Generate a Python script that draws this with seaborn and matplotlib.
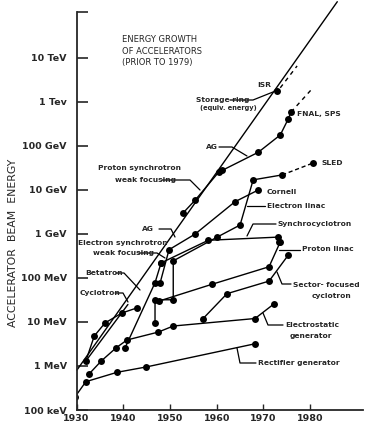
import numpy as np
import pandas as pd
import seaborn as sns
import matplotlib.pyplot as plt
from matplotlib.lines import Line2D

# -------------------------------
# Data (year, beam energy in MeV)
# -------------------------------
rect_year = [1929.7, 1932.0, 1938.7, 1944.9, 1968.2]
rect_mev = [0.20, 0.44, 0.72, 0.95, 3.2]

estat_year = [1932.7, 1935.3, 1938.5, 1940.8, 1947.5, 1950.7, 1968.2, 1972.3]
estat_mev = [0.66, 1.3, 2.6, 3.9, 5.9, 8.1, 12, 26]

cyc_year = [1932.0, 1933.8, 1936.1, 1939.7, 1943.0]
cyc_mev = [1.3, 4.8, 9.5, 16, 21]
cyc_env_year = [1932.0, 1941.0]
cyc_env_mev = [1.3, 25]

beta_year = [1940.4, 1946.8, 1948.1]
beta_mev = [2.6, 78, 220]

esync_year = [1947.9, 1949.8, 1955.4, 1963.9, 1968.9]
esync_mev = [78, 440, 1000, 5400, 10000]

sync_year = [1948.1, 1958.2, 1973.2]
sync_mev = [220, 720, 850]
sync_extra_year = [1973.4]
sync_extra_mev = [660]

elin_year = [1946.8, 1946.8, 1950.7, 1950.7, 1960.1, 1965.0, 1967.8, 1974.0]
elin_mev = [9.5, 32, 32, 245, 850, 1600, 17000, 22000]
sled_year = [1974.0, 1980.6]
sled_mev = [22000, 41000]

plin_year = [1947.7, 1959.0, 1971.2, 1973.6]
plin_mev = [30, 72, 180, 660]

sector_year = [1957.1, 1962.2, 1971.2, 1975.3]
sector_mev = [12, 44, 85, 330]

psync_year = [1952.8, 1955.4, 1960.5, 1961.2, 1968.9, 1973.6, 1975.3, 1975.9]
psync_mev = [3000, 5900, 26000, 28000, 72000, 178000, 410000, 590000]
fnal_year = [1975.9, 1980.6]
fnal_mev = [590000, 2.1e6]

env_year = [1930.1, 1985.8]
env_mev = [0.81, 1.9e8]

isr_year = [1972.9]
isr_mev = [1.8e6]
isr_ext_year = [1973.6, 1977.2]
isr_ext_mev = [2.1e6, 6.6e6]

tick_mev = [0.1, 1, 10, 100, 1e3, 1e4, 1e5, 1e6, 1e7]
tick_text = ["100 keV", "1 MeV", "10 MeV", "100 MeV", "1 GeV",
             "10 GeV", "100 GeV", "1 Tev", "10 TeV"]
year_ticks = [1930, 1940, 1950, 1960, 1970, 1980]

# -------------------------------
# Figure
# -------------------------------
sns.set_style("ticks")
plt.rcParams["font.family"] = ["DejaVu Sans"]

W, H = 365, 428
fig = plt.figure(figsize=(W / 100, H / 100), dpi=100)
ax = fig.add_axes([76.5 / W, 18 / H, 286.5 / W, 398 / H])
ax.set_yscale("log")

def draw(xs, ys, dots=True, ls="-", clip=True):
    sns.lineplot(x=xs, y=ys, ax=ax, color="black", lw=1.0, sort=False,
                 estimator=None, linestyle=ls,
                 marker="o" if dots else None, markersize=5,
                 markeredgewidth=0, clip_on=clip)

draw(rect_year, rect_mev)
draw(estat_year, estat_mev)
draw(cyc_year, cyc_mev)
draw(cyc_env_year, cyc_env_mev, dots=False)
draw(beta_year, beta_mev)
draw(esync_year, esync_mev)
draw(sync_year, sync_mev)
draw(sync_extra_year, sync_extra_mev)
draw(elin_year, elin_mev)
draw(sled_year, sled_mev, dots=False, ls=(0, (3, 2)))
draw(sled_year[1:], sled_mev[1:])
draw(plin_year, plin_mev)
draw(sector_year, sector_mev)
draw(psync_year, psync_mev)
draw(fnal_year, fnal_mev, dots=False, ls=(0, (3, 3)))
draw(env_year, env_mev, dots=False, clip=False)
draw(isr_year, isr_mev)
draw(isr_ext_year, isr_ext_mev, dots=False, ls=(0, (3, 3)))

ax.set_xlim(1930, 1991.3)
ax.set_ylim(0.1, 10 ** 8.045)
sns.despine(ax=ax)
for s in ["left", "bottom"]:
    ax.spines[s].set_linewidth(1.3)

ax.set_yticks(tick_mev + [10 ** 8.045])
ax.set_yticklabels(tick_text + [""], fontsize=6.8, fontweight="bold")
ax.yaxis.set_minor_locator(plt.NullLocator())
ax.tick_params(axis="y", direction="in", length=8, width=1.2, pad=7)
ax.set_xticks(year_ticks)
ax.set_xticklabels([str(y) for y in year_ticks], fontsize=6.8, fontweight="bold")
ax.tick_params(axis="x", direction="in", length=4, width=1.0, pad=3)
ax.set_xlabel("")
ax.set_ylabel("")

# -------------------------------
# Text labels and leader lines (pixel positions)
# -------------------------------
def ftext(x, y, s, **kw):
    kw.setdefault("fontsize", 5.4)
    kw.setdefault("fontweight", "bold")
    fig.text(x / W, 1 - y / H, s, ha="left", va="center", **kw)

def leader(pts, ls="-"):
    xs = [p[0] / W for p in pts]
    ys = [1 - p[1] / H for p in pts]
    fig.add_artist(Line2D(xs, ys, color="black", lw=0.9, linestyle=ls))

fig.text(13 / W, 1 - 243 / H, "ACCELERATOR  BEAM  ENERGY", rotation=90,
         ha="center", va="center", fontsize=7.8)
fig.text(122 / W, 1 - 51 / H, "ENERGY GROWTH\nOF ACCELERATORS\n(PRIOR TO 1979)",
         ha="left", va="center", fontsize=6.0, linespacing=1.35)

ftext(257, 85, "ISR")
ftext(196, 100, "Storage ring")
ftext(200, 108, "(equiv. energy)", fontsize=4.8)
leader([(230, 100), (253, 100), (273, 92)])
ftext(297, 114, "FNAL, SPS")
ftext(206, 147, "AG")
leader([(219, 147), (232, 147), (247, 156)])
ftext(98, 168, "Proton synchrotron")
ftext(115, 180, "weak focusing")
leader([(162, 180), (190, 180), (200, 190)])
ftext(322, 163, "SLED")
ftext(267, 192, "Cornell")
ftext(267, 206, "Electron linac")
leader([(247, 206), (265, 206)])
ftext(278, 224, "Synchrocyclotron")
leader([(247, 236), (253, 224), (276, 224)])
ftext(142, 229, "AG")
leader([(159, 229), (171, 229), (175, 237)])
ftext(78, 243, "Electron synchrotron")
ftext(93, 253, "weak focusing")
leader([(139, 253), (157, 253), (165, 258)])
ftext(302, 249, "Proton linac")
leader([(279, 250), (300, 250)])
ftext(85, 273, "Betatron")
leader([(116, 273), (124, 273), (140, 290)])
ftext(80, 293, "Cyclotron")
leader([(115, 293), (123, 293), (128, 302)])
ftext(293, 285, "Sector- focused")
ftext(312, 296, "cyclotron")
leader([(277, 272), (282, 284), (291, 284)])
ftext(285, 325, "Electrostatic")
ftext(290, 336, "generator")
leader([(263, 313), (268, 325), (283, 325)])
ftext(258, 363, "Rectifier generator")
leader([(237, 348), (240, 363), (256, 363)])

fig.savefig("out.png", dpi=100)
plt.close(fig)
